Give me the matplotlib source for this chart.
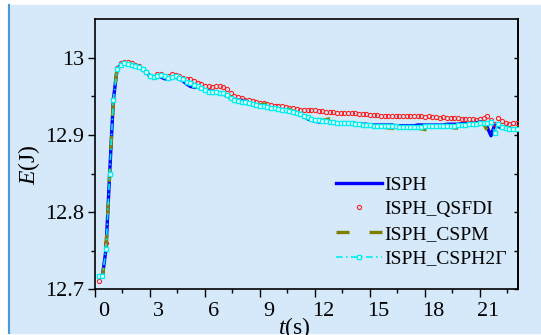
import numpy as np
import matplotlib
matplotlib.use('Agg')
import matplotlib.pyplot as plt
from matplotlib.transforms import ScaledTranslation
from matplotlib.patches import Rectangle
from matplotlib.lines import Line2D

# time grid (s), every 0.2 s
t = np.round(np.arange(0.2, 23.01, 0.2), 1)

isph = [12.716, 12.716, 12.752, 12.850, 12.945,
        12.985, 12.991, 12.993, 12.992, 12.991,
        12.990, 12.988, 12.985, 12.982, 12.976,
        12.974, 12.975, 12.975, 12.973, 12.972,
        12.974, 12.975, 12.973, 12.970, 12.966,
        12.963, 12.962, 12.962, 12.961, 12.958,
        12.957, 12.957, 12.956, 12.954, 12.953,
        12.951, 12.948, 12.946, 12.945, 12.945,
        12.944, 12.942, 12.940, 12.939, 12.938,
        12.937, 12.936, 12.935, 12.935, 12.934,
        12.933, 12.932, 12.931, 12.930, 12.929,
        12.927, 12.924, 12.921, 12.919, 12.918,
        12.917, 12.917, 12.917, 12.916, 12.916,
        12.916, 12.916, 12.915, 12.915, 12.915,
        12.915, 12.914, 12.914, 12.914, 12.913,
        12.913, 12.913, 12.913, 12.913, 12.913,
        12.913, 12.912, 12.912, 12.912, 12.912,
        12.912, 12.912, 12.913, 12.913, 12.913,
        12.913, 12.913, 12.913, 12.913, 12.913,
        12.914, 12.914, 12.914, 12.914, 12.915,
        12.915, 12.915, 12.916, 12.916, 12.917,
        12.917, 12.910, 12.899, 12.913, 12.911,
        12.909, 12.908, 12.908, 12.908, 12.908]

qsfdi = [12.711, 12.719, 12.760, 12.850, 12.947,
         12.987, 12.993, 12.995, 12.994, 12.993,
         12.991, 12.989, 12.986, 12.982, 12.976,
         12.975, 12.979, 12.979, 12.977, 12.977,
         12.979, 12.978, 12.976, 12.974, 12.973,
         12.972, 12.970, 12.968, 12.966, 12.964,
         12.963, 12.962, 12.963, 12.963, 12.962,
         12.959, 12.955, 12.951, 12.949, 12.948,
         12.946, 12.945, 12.944, 12.943, 12.942,
         12.941, 12.940, 12.939, 12.938, 12.937,
         12.937, 12.936, 12.935, 12.935, 12.934,
         12.933, 12.933, 12.932, 12.932, 12.932,
         12.931, 12.931, 12.930, 12.930, 12.930,
         12.929, 12.929, 12.929, 12.928, 12.928,
         12.928, 12.927, 12.927, 12.927, 12.926,
         12.926, 12.926, 12.925, 12.925, 12.925,
         12.925, 12.924, 12.925, 12.924, 12.924,
         12.924, 12.924, 12.924, 12.924, 12.923,
         12.924, 12.923, 12.923, 12.922, 12.923,
         12.922, 12.922, 12.922, 12.922, 12.921,
         12.921, 12.921, 12.921, 12.920, 12.921,
         12.922, 12.924, 12.920, 12.914, 12.922,
         12.918, 12.915, 12.914, 12.915, 12.915]

cspm = [12.716, 12.716, 12.752, 12.850, 12.945,
        12.985, 12.991, 12.993, 12.992, 12.991,
        12.990, 12.988, 12.985, 12.982, 12.976,
        12.975, 12.977, 12.977, 12.975, 12.974,
        12.975, 12.976, 12.974, 12.972, 12.969,
        12.967, 12.965, 12.963, 12.961, 12.958,
        12.956, 12.956, 12.956, 12.955, 12.954,
        12.952, 12.948, 12.946, 12.944, 12.943,
        12.943, 12.941, 12.940, 12.939, 12.939,
        12.940, 12.940, 12.940, 12.939, 12.938,
        12.937, 12.935, 12.933, 12.931, 12.929,
        12.928, 12.928, 12.927, 12.925, 12.922,
        12.920, 12.919, 12.920, 12.921, 12.922,
        12.921, 12.920, 12.917, 12.915, 12.915,
        12.914, 12.914, 12.913, 12.913, 12.913,
        12.912, 12.912, 12.911, 12.910, 12.909,
        12.909, 12.908, 12.908, 12.908, 12.909,
        12.910, 12.911, 12.909, 12.908, 12.907,
        12.907, 12.907, 12.908, 12.910, 12.912,
        12.913, 12.911, 12.909, 12.909, 12.909,
        12.909, 12.910, 12.912, 12.914, 12.915,
        12.914, 12.906, 12.906, 12.912, 12.910,
        12.909, 12.908, 12.908, 12.908, 12.908]

csph2g = [12.717, 12.717, 12.752, 12.850, 12.945,
          12.985, 12.991, 12.993, 12.992, 12.991,
          12.990, 12.988, 12.985, 12.982, 12.976,
          12.975, 12.977, 12.978, 12.976, 12.974,
          12.975, 12.976, 12.974, 12.972, 12.969,
          12.967, 12.965, 12.963, 12.961, 12.958,
          12.956, 12.956, 12.956, 12.955, 12.954,
          12.952, 12.948, 12.946, 12.944, 12.943,
          12.943, 12.941, 12.940, 12.939, 12.938,
          12.937, 12.936, 12.935, 12.935, 12.934,
          12.933, 12.932, 12.931, 12.930, 12.929,
          12.927, 12.925, 12.923, 12.921, 12.920,
          12.919, 12.918, 12.918, 12.917, 12.917,
          12.916, 12.916, 12.915, 12.915, 12.915,
          12.914, 12.914, 12.913, 12.913, 12.913,
          12.912, 12.912, 12.912, 12.912, 12.912,
          12.912, 12.912, 12.911, 12.911, 12.911,
          12.911, 12.911, 12.911, 12.911, 12.912,
          12.912, 12.912, 12.912, 12.912, 12.912,
          12.912, 12.912, 12.912, 12.913, 12.913,
          12.913, 12.914, 12.914, 12.914, 12.915,
          12.915, 12.916, 12.917, 12.903, 12.914,
          12.911, 12.909, 12.908, 12.908, 12.908]

xticks = [0, 3, 6, 9, 12, 15, 18, 21]
yticks = [12.7, 12.8, 12.9, 13.0]
ylabels = ['12.7', '12.8', '12.9', '13']

plt.rcParams['font.family'] = ['Liberation Serif', 'DejaVu Serif']
plt.rcParams['mathtext.fontset'] = 'custom'
plt.rcParams['mathtext.rm'] = 'Liberation Serif'
plt.rcParams['mathtext.it'] = 'Liberation Serif:italic'

fig = plt.figure(figsize=(5.41, 3.35), dpi=100)
bg = '#d5e9fb'
fig.patches.append(Rectangle((8 / 541, 2 / 335), 1 - 8 / 541, 328 / 335,
                             transform=fig.transFigure, color=bg, zorder=-2))
fig.lines.append(Line2D([8.5 / 541] * 2, [2 / 335, 330 / 335], transform=fig.transFigure,
                        color='#4a9ad8', lw=1.5, zorder=-1))

ax = fig.add_axes([0.1756, 0.1364, 0.7814, 0.806])
ax.set_facecolor('none')

ax.plot(t, isph, color='#0000ff', lw=2.4, label='ISPH', zorder=2)
ax.plot(t, qsfdi, ls='none', marker='o', ms=3, mfc='none', mec='#ff2020', mew=0.8,
        label='ISPH_QSFDI', zorder=3)
ax.plot(t, cspm, color='#808000', lw=2.4, dashes=(3.9, 6), label='ISPH_CSPM', zorder=4)
ax.plot(t, csph2g, color='#00f0f0', lw=1.2, dashes=(4, 2, 1, 2), marker='s', ms=3,
        mfc='white', mec='#00f0f0', mew=1, label='ISPH_CSPH2\u0393', zorder=5)

ax.set_xlim(0, 23.06)
ax.set_ylim(12.7, 13.05)
ax.set_xticks(xticks)
ax.set_xticks(np.arange(1.5, 23, 3), minor=True)
ax.set_yticks(yticks)
ax.set_yticklabels(ylabels)
ax.set_yticks([12.75, 12.85, 12.95], minor=True)

ax.tick_params(axis='x', which='major', direction='out', length=6, width=1, labelsize=16, pad=3)
ax.tick_params(axis='x', which='minor', direction='out', length=3, width=1)
ax.tick_params(axis='y', which='major', direction='out', length=5, width=1, labelsize=16, pad=3)
ax.tick_params(axis='y', which='minor', direction='out', length=3, width=1)
for s in ax.spines.values():
    s.set_linewidth(1.2)

sec = ax.secondary_yaxis('right')
sec.set_yticks(yticks)
sec.set_yticks([12.75, 12.85, 12.95], minor=True)
sec.tick_params(which='both', direction='in', length=3, width=1, labelright=False)
sec.spines['right'].set_linewidth(1.2)

# x tick labels sit a bit right of their ticks in the original
off = ScaledTranslation(8.5 / 100, 0, fig.dpi_scale_trans)
for tk in ax.xaxis.get_major_ticks():
    tk.label1.set_transform(tk.label1.get_transform() + off)

ax.set_xlabel(r'$t$(s)', fontsize=17)
ax.xaxis.set_label_coords(0.471, -0.095)
ax.set_ylabel(r'$E$(J)', fontsize=17)
ax.yaxis.set_label_coords(-0.125, 0.46)

ax.legend(loc='upper left', bbox_to_anchor=(336 / 541, (335 - 176) / 335),
          bbox_transform=fig.transFigure, frameon=False, fontsize=14,
          handlelength=2.35, handletextpad=0.15, labelspacing=0.36,
          borderpad=0, borderaxespad=0, numpoints=1)

fig.savefig('out.png', dpi=100, facecolor='white')
